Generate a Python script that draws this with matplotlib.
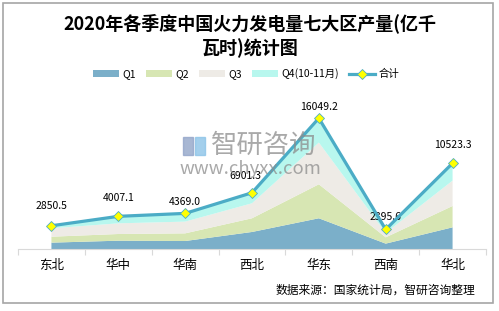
import numpy as np
import matplotlib.pyplot as plt
from matplotlib.patches import Rectangle

plt.rcParams['font.family'] = ['Noto Sans CJK SC', 'DejaVu Sans']

regions = ["东北", "华中", "华南", "西北", "华东", "西南", "华北"]
q1 = [780, 1020, 980, 2090, 3770, 660, 2660]
q2 = [730, 820, 940, 1680, 4170, 770, 2620]
q3 = [1030, 1310, 1440, 1840, 5120, 540, 3110]
total = [2850.5, 4007.1, 4369.0, 6901.3, 16049.2, 2395.6, 10523.3]
q4 = [t - a - b - c for t, a, b, c in zip(total, q1, q2, q3)]
series_names = ["Q1", "Q2", "Q3", "Q4(10-11月)"]

colors = ["#7BAFC9", "#D7E6B3", "#EEEBE6", "#B8F7EE"]
line_color = "#4BACC6"

W, H = 499, 311
fig = plt.figure(figsize=(W / 100, H / 100), dpi=100)

# outer frame
fig.patches.append(Rectangle((3 / W, 1 - 303 / H), 490 / W, 300 / H,
                             transform=fig.transFigure, fill=False,
                             edgecolor="#A6A6A6", linewidth=1.2))

# watermark (behind the chart)
fig.patches.append(Rectangle((183 / W, 1 - 155 / H), 10 / W, 18 / H,
                             transform=fig.transFigure, color="#93A5C9",
                             alpha=0.8, zorder=0))
fig.patches.append(Rectangle((195 / W, 1 - 155 / H), 10 / W, 18 / H,
                             transform=fig.transFigure, color="#8CC3E8",
                             alpha=0.8, zorder=0))
fig.text(264 / W, 1 - 145 / H, "智研咨询", color="#8C8C8C", fontsize=19,
         ha="center", va="center", alpha=0.75, zorder=0)
fig.text(250 / W, 1 - 169 / H, "www.chyxx.com", color="#8C8C8C", fontsize=13.3,
         ha="center", va="center", alpha=0.75, zorder=0)

ax = fig.add_axes([18 / W, 1 - 249 / H, 468 / W, 163 / H])
x = np.arange(len(regions))
ax.stackplot(x, q1, q2, q3, q4, colors=colors, labels=series_names)
ax.plot(x, total, color=line_color, linewidth=2.3, marker="D", markersize=5.5,
        markerfacecolor="#FFFF00", markeredgecolor=line_color, markeredgewidth=0.6,
        label="合计", zorder=5)

# data labels (offsets in points)
label_dy = [14, 13, 8, 12, 8, 9, 13]
label_dx = [0, 0, 0, -5, 0, 0, 0]
for xi, t, dx, dy in zip(x, total, label_dx, label_dy):
    ax.annotate(f"{t:.1f}", (xi, t), xytext=(dx, dy), textcoords="offset points",
                ha="center", va="center", fontsize=7.5, color="#000000")

ax.set_xlim(-0.5, len(regions) - 0.5)
ax.set_ylim(0, 20000)
ax.set_yticks([])
ax.set_xticks(x)
ax.set_xticklabels(regions, fontsize=9)
ax.set_xticks(np.arange(-0.5, len(regions), 1), minor=True)
ax.tick_params(axis="x", which="major", length=0, pad=7)
ax.tick_params(axis="x", which="minor", length=4, color="#D9D9D9", width=0.8)
for s in ["top", "left", "right"]:
    ax.spines[s].set_visible(False)
ax.spines["bottom"].set_color("#D9D9D9")
ax.spines["bottom"].set_linewidth(0.8)
ax.set_facecolor("none")

# title
fig.text(250 / W, 1 - 23 / H, "2020年各季度中国火力发电量七大区产量(亿千", fontsize=13,
         fontweight="bold", ha="center", va="center")
fig.text(250 / W, 1 - 48 / H, "瓦时)统计图", fontsize=13,
         fontweight="bold", ha="center", va="center")

fig.legend(loc="center", bbox_to_anchor=(246 / W, 1 - 74 / H), ncol=5,
           frameon=False, fontsize=7.5, handlelength=2.5, handleheight=0.6,
           columnspacing=1.0, handletextpad=0.3)

fig.text(475 / W, 1 - 290 / H, "数据来源：国家统计局，智研咨询整理", fontsize=8.5,
         ha="right", va="center")

fig.savefig("out.png", dpi=100)
